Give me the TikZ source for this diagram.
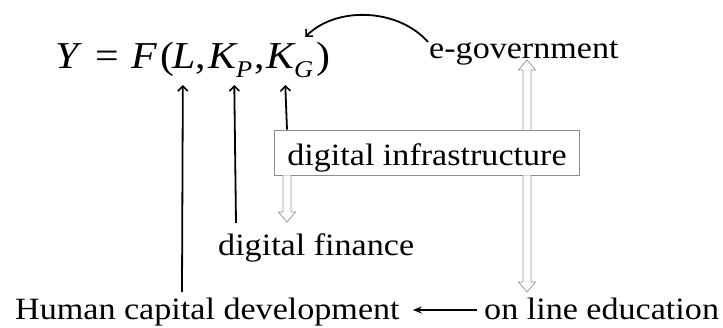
\documentclass[tikz,border=0pt]{standalone}
\usepackage{fontspec}
\setmainfont[FakeStretch=1.1]{Liberation Serif}
\usetikzlibrary{arrows.meta,calc}
\definecolor{hollowgray}{HTML}{9A9A9A}
\definecolor{boxgray}{HTML}{8C8C8C}
\newcommand\hollowarr[2]{%
  \draw[hollowstyle] let \p1=(#1), \p2=(#2), \n1={ifthenelse(\y2>\y1,1,-1)} in
    (\x1-4pt,\y1) -- (\x1-4pt,\y2-\n1*10pt) -- (\x1-8.5pt,\y2-\n1*10pt) -- (\x1,\y2)
    -- (\x1+8.5pt,\y2-\n1*10pt) -- (\x1+4pt,\y2-\n1*10pt) -- (\x1+4pt,\y1);}
\begin{document}
\begin{tikzpicture}[x=1pt,y=-1pt,
  lbl/.style={font=\fontsize{31}{36}\selectfont, inner sep=0pt, anchor=base west},
  eqn/.style={font=\fontsize{38}{40}\selectfont, inner sep=0pt, anchor=base west},
  eqsub/.style={font=\fontsize{24}{26}\selectfont, inner sep=0pt, anchor=base west},
  blk/.style={line width=1.8pt, -{Straight Barb[length=5pt,width=10pt,line width=1.6pt]}},
  hollowstyle/.style={draw=hollowgray, line width=0.8pt, fill=white, line join=miter},
  infbox/.style={draw=boxgray, line width=0.9pt, fill=white, font=\fontsize{31}{36}\selectfont,
    inner sep=0pt, text height=35pt, text depth=10pt, minimum width=305pt}]
\useasboundingbox (0,0) rectangle (723,327);
% equation
\node[eqn] (Y) at (55,68) {\itshape Y};
\node[eqn] (eq) at (95,68) {=};
\node[eqn] (F) at (131,68) {\itshape F};
\node[eqn] (lp) at (160,68) {(};
\node[eqn] (L) at (172,68) {\itshape L};
\node[eqn] (c1) at (195,68) {,};
\node[eqn] (KP) at (208,68) {\itshape K};
\node[eqsub] (P) at (236,77) {\itshape P};
\node[eqn] (c2) at (254,68) {,};
\node[eqn] (KG) at (266,68) {\itshape K};
\node[eqsub] (G) at (294,77) {\itshape G};
\node[eqn] (rp) at (316,68) {)};
% labels
\node[lbl] (egov) at (429,58) {e-government};
\node[infbox] (box) at (427,152.5) {digital infrastructure};
\node[lbl] (fin) at (218,255) {digital finance};
\node[lbl] (human) at (15,319) {Human capital development};
\node[lbl] (edu) at (484,319) {on line education};
% helper coordinates
\coordinate (egtip) at ($(egov.base west)+(98,2)$);
\coordinate (edutip) at ($(edu.base west)+(43,-27)$);
\coordinate (fintip) at ($(fin.base west)+(69,-33)$);
% hollow arrows
\hollowarr{box.north -| egtip}{egtip}
\hollowarr{box.south -| edutip}{edutip}
\hollowarr{box.south -| fintip}{fintip}
% black arrows into the equation
\draw[blk] ($(human.base west)+(167,-27)$) -- ($(L.base)+(-1,17)$);
\draw[blk] ($(fin.base west)+(18,-32)$) -- ($(KP.base east)+(-2,17)$);
\draw[blk] (box.north -| fintip) -- ($(KG.base east)+(-9,17)$);
% curved arrow from e-government
\draw[blk] ($(egov.base west)+(-1,-16)$) .. controls (398,8) and (336,6) .. ($(KG.base east)+(11,-31)$);
% bottom arrow
\draw[line width=1.5pt, -{Stealth[length=9pt,width=7pt]}] ($(edu.base west)+(-7,-9)$) -- ($(human.base east)+(13,-9)$);
\end{tikzpicture}
\end{document}
